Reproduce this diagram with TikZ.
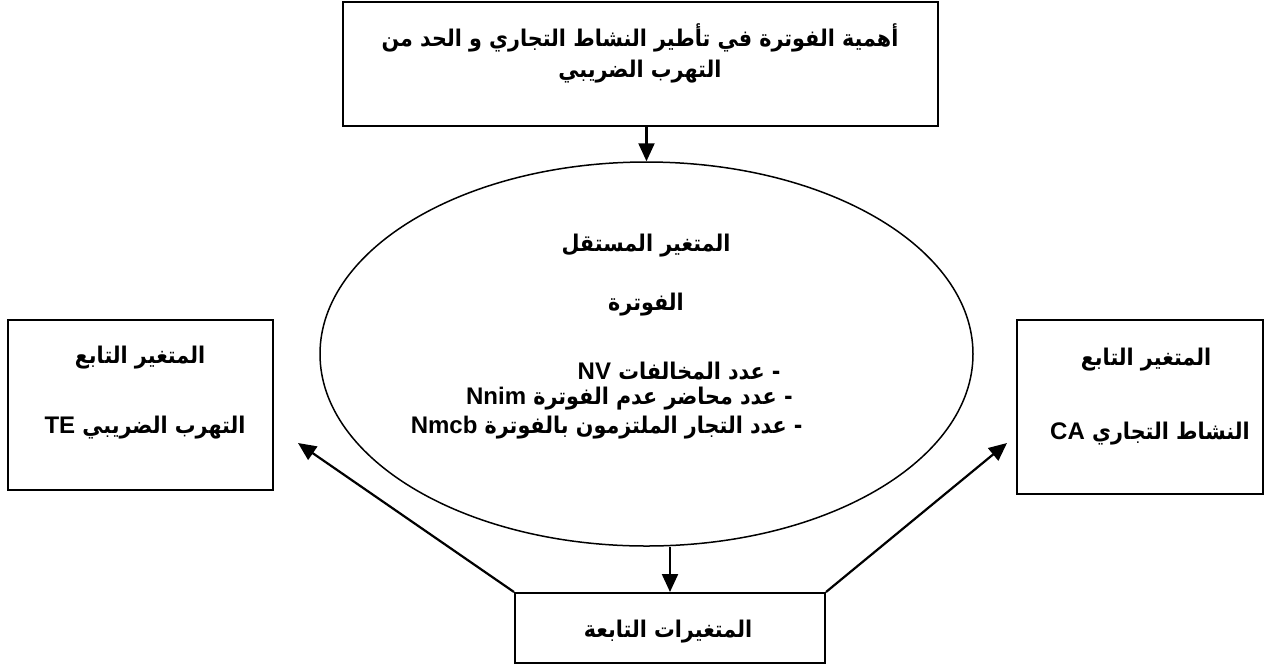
\documentclass[tikz,border=0pt]{standalone}
\usepackage{fontspec}
\setmainfont{Liberation Sans}
\newfontfamily\arabicfont[Script=Arabic]{DejaVu Sans Condensed}
\TeXXeTstate=1
\usetikzlibrary{shapes.geometric,arrows.meta}
\newcommand{\AR}[1]{{\arabicfont\bfseries\beginR #1\endR}}
\newcommand{\LT}[1]{\beginL{\rmfamily\bfseries\fontsize{12}{14}\selectfont #1}\endL}
\begin{document}
\begin{tikzpicture}[x=0.5pt,y=-0.5pt,
  box/.style={draw,line width=1pt,inner sep=0pt,rectangle},
  txt/.style={font=\fontsize{11.5}{14}\selectfont,inner sep=0pt},
  bigtxt/.style={font=\fontsize{11.5}{14}\selectfont,inner sep=0pt},
  arr/.style={line width=1.1pt,-{Triangle[length=9pt,width=8pt]}}]
\useasboundingbox (0,0) rectangle (1271,666);
% boxes
\node[box,minimum width=297.5pt,minimum height=62pt] (top) at (640.5,64) {};
\node[draw,ellipse,line width=0.75pt,minimum width=326.5pt,minimum height=192pt,inner sep=0pt] (ell) at (646.5,354) {};
\node[box,minimum width=132.5pt,minimum height=85pt] (lbox) at (140.5,405) {};
\node[box,minimum width=123pt,minimum height=87pt] (rbox) at (1140,407) {};
\node[box,minimum width=155pt,minimum height=35pt] (bot) at (670,628) {};
% texts
\node[bigtxt] (t1) at (640,38) {\AR{أهمية الفوترة في تأطير النشاط التجاري و الحد من}};
\node[bigtxt] (t2) at (640,72) {\AR{التهرب الضريبي}};
\node[txt] (e1) at (646,246) {\AR{المتغير المستقل}};
\node[txt] (e2) at (646,305) {\AR{الفوترة}};
\node[txt,anchor=east] (e3) at (781,371) {\AR{- عدد المخالفات \LT{NV}}};
\node[txt,anchor=east] (e4) at (793,399) {\AR{- عدد محاضر عدم الفوترة \LT{Nnim}}};
\node[txt,anchor=east] (e5) at (803,428) {\AR{- عدد التجار الملتزمون بالفوترة \LT{Nmcb}}};
\node[txt] (l1) at (140,358) {\AR{المتغير التابع}};
\node[txt] (l2) at (145,428) {\AR{التهرب الضريبي \LT{TE}}};
\node[txt] (r1) at (1146,360) {\AR{المتغير التابع}};
\node[txt] (r2) at (1150,434) {\AR{النشاط التجاري \LT{CA}}};
\node[txt] (b1) at (668,632) {\AR{المتغيرات التابعة}};
% connectors
\coordinate (lt) at (298,443);
\coordinate (rt) at (1007,443);
\draw[arr] (ell.north |- top.south) -- (ell.north);
\draw[arr] (ell.south -| bot.north) -- (bot.north);
\draw[arr] (bot.north west) -- (lt);
\draw[arr] (bot.north east) -- (rt);
\end{tikzpicture}
\end{document}
